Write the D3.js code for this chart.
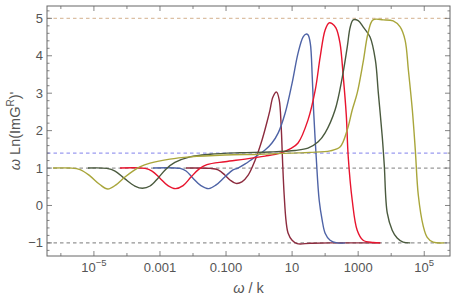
<!DOCTYPE html>
<html>
<head>
<meta charset="utf-8">
<script src="https://cdn.jsdelivr.net/npm/d3@7"></script>
<style>
  body { margin: 0; background: #fff; }
  text { font-family: "Liberation Sans", Arial, sans-serif; fill: #555; }
</style>
</head>
<body>
<svg id="chart" width="456" height="304"></svg>
<script>
// each point: [log10(omega/k), omega Ln(ImG^R)']
const maroon = [[-2.21,1.00],[-1.48,0.99],[-1.24,0.95],[-1.03,0.81],[-0.88,0.68],[-0.70,0.59],[-0.52,0.63],
  [-0.33,0.81],[-0.12,1.21],[0.09,1.75],[0.24,2.23],[0.33,2.55],[0.42,2.90],[0.53,3.03],[0.61,2.82],
  [0.67,2.10],[0.71,1.21],[0.76,0.28],[0.82,-0.44],[0.88,-0.74],[1.00,-0.93],[1.15,-1.02],[1.55,-1.01],
  [2.15,-1.00],[3.67,-1.00]];
const blue = [[-3.21,1.00],[-2.39,0.99],[-2.21,0.92],[-2.00,0.73],[-1.76,0.53],[-1.52,0.45],[-1.30,0.55],
  [-1.03,0.77],[-0.79,0.95],[-0.64,1.00],[-0.42,1.11],[-0.21,1.24],[-0.03,1.35],[0.18,1.48],[0.39,1.67],
  [0.58,1.94],[0.79,2.47],[1.00,3.27],[1.18,4.07],[1.33,4.50],[1.42,4.58],[1.48,4.56],[1.55,4.34],
  [1.61,3.43],[1.65,2.55],[1.73,1.29],[1.82,0.14],[1.91,-0.39],[2.00,-0.74],[2.15,-0.93],[2.36,-1.00],[2.61,-1.00]];
const red = [[-4.21,1.00],[-3.45,0.99],[-3.24,0.92],[-3.00,0.73],[-2.76,0.53],[-2.53,0.45],[-2.30,0.53],
  [-2.06,0.76],[-1.82,0.97],[-1.58,1.09],[-1.03,1.17],[-0.42,1.24],[0.18,1.32],[0.64,1.40],[0.94,1.51],
  [1.18,1.67],[1.48,2.28],[1.70,3.08],[1.85,3.97],[2.00,4.69],[2.12,4.88],[2.21,4.86],[2.33,4.74],
  [2.45,4.34],[2.55,3.43],[2.64,2.42],[2.70,1.29],[2.82,0.14],[2.97,-0.66],[3.15,-0.93],[3.45,-0.99],[3.67,-1.00]];
const green = [[-5.18,1.00],[-4.61,0.99],[-4.36,0.92],[-4.06,0.71],[-3.76,0.52],[-3.53,0.46],[-3.30,0.52],
  [-3.06,0.73],[-2.82,0.97],[-2.55,1.15],[-2.09,1.30],[-1.48,1.37],[-0.58,1.41],[0.33,1.43],[1.09,1.47],
  [1.48,1.53],[1.79,1.70],[2.00,1.94],[2.30,2.55],[2.52,3.43],[2.67,4.24],[2.76,4.77],[2.85,4.96],
  [3.00,4.94],[3.15,4.77],[3.36,4.50],[3.52,3.89],[3.61,3.01],[3.73,1.83],[3.79,1.08],[3.88,-0.20],
  [4.03,-0.66],[4.18,-0.87],[4.36,-0.98],[4.58,-1.00]];
const olive = [[-6.24,1.00],[-5.73,1.00],[-5.42,0.96],[-5.12,0.79],[-4.82,0.56],[-4.58,0.44],[-4.33,0.55],
  [-4.06,0.76],[-3.82,0.92],[-3.61,1.03],[-3.30,1.13],[-2.70,1.24],[-2.09,1.30],[-1.03,1.35],[0.03,1.37],
  [0.94,1.40],[1.55,1.42],[2.15,1.46],[2.45,1.56],[2.67,2.02],[2.82,2.55],[2.97,3.00],[3.15,3.83],
  [3.30,4.61],[3.45,4.96],[3.76,4.96],[4.06,4.93],[4.27,4.77],[4.42,4.42],[4.52,3.62],[4.64,2.55],
  [4.73,1.48],[4.82,0.28],[4.97,-0.55],[5.09,-0.85],[5.27,-0.98],[5.61,-1.00]];

const seriesColors = ['#8c2b3e', '#4e63a6', '#e8142e', '#4a5a3e', '#a9a63b'];
const refLines = [{v: 5, c: '#dcc0a4'}, {v: 1.4, c: '#9a9af0'}, {v: 1, c: '#999'}, {v: -1, c: '#949494'}];
const xLabelExps = [-5, -3, -1, 1, 3, 5];
const xLabelText = {'-3': '0.001', '-1': '0.100', '1': '10', '3': '1000'};
const yTicks = [-1, 0, 1, 2, 3, 4, 5];

const svg = d3.select('#chart');
const margin = {top: 6, right: 6, bottom: 48, left: 47};
const W = 456, H = 304;

const x = d3.scaleLog()
  .domain([Math.pow(10, -6.42), Math.pow(10, 5.78)])
  .range([margin.left, W - margin.right]);
const y = d3.scaleLinear()
  .domain([-1.35, 5.33])
  .range([H - margin.bottom, margin.top]);

const x0 = margin.left, x1 = W - margin.right, y0 = H - margin.bottom, y1 = margin.top;

// reference lines
refLines.forEach(r => {
  svg.append('line')
    .attr('x1', x0).attr('x2', x1)
    .attr('y1', y(r.v)).attr('y2', y(r.v))
    .attr('stroke', r.c).attr('stroke-width', 1.3)
    .attr('stroke-dasharray', '3.5,3');
});

// curves
const line = d3.line()
  .x(d => x(Math.pow(10, d[0])))
  .y(d => y(d[1]))
  .curve(d3.curveCatmullRom.alpha(0.5));

[maroon, blue, red, green, olive].forEach((s, i) => {
  svg.append('path')
    .attr('d', line(s))
    .attr('fill', 'none')
    .attr('stroke', seriesColors[i])
    .attr('stroke-width', 1.4);
});

// frame
svg.append('rect')
  .attr('x', x0).attr('y', y1)
  .attr('width', x1 - x0).attr('height', y0 - y1)
  .attr('fill', 'none').attr('stroke', '#666').attr('stroke-width', 1);

const ticks = svg.append('g').attr('stroke', '#666').attr('stroke-width', 0.8);

// x ticks, every decade, on bottom and top
d3.range(-6, 6).forEach(e => {
  const px = x(Math.pow(10, e));
  const len = xLabelExps.includes(e) ? 5 : 3;
  ticks.append('line').attr('x1', px).attr('x2', px).attr('y1', y0).attr('y2', y0 - len);
  ticks.append('line').attr('x1', px).attr('x2', px).attr('y1', y1).attr('y2', y1 + len);
});

// y ticks, major + minor (0.2), on left and right
d3.range(-6, 27).forEach(k => {
  const v = k / 5;
  if (v < -1.35 || v > 5.33) return;
  const major = k % 5 === 0;
  const len = major ? 5 : 2.5;
  ticks.append('line').attr('x1', x0).attr('x2', x0 + len).attr('y1', y(v)).attr('y2', y(v));
  ticks.append('line').attr('x1', x1).attr('x2', x1 - len).attr('y1', y(v)).attr('y2', y(v));
});

// y tick labels
yTicks.forEach(v => {
  svg.append('text')
    .attr('x', x0 - 4).attr('y', y(v))
    .attr('dy', '0.35em')
    .attr('text-anchor', 'end')
    .style('font-size', '13px')
    .text(v < 0 ? '\u2212' + Math.abs(v) : v);
});

// x tick labels
xLabelExps.forEach(e => {
  const t = svg.append('text')
    .attr('x', x(Math.pow(10, e))).attr('y', 272)
    .attr('text-anchor', 'middle')
    .style('font-size', '13px');
  if (xLabelText[e] !== undefined) {
    t.text(xLabelText[e]);
  } else {
    t.append('tspan').text('10');
    t.append('tspan').attr('dy', -6).style('font-size', '9.5px')
      .text(e < 0 ? '\u2212' + Math.abs(e) : e);
  }
});

// axis labels
const xl = svg.append('text')
  .attr('x', (x0 + x1) / 2).attr('y', 293)
  .attr('text-anchor', 'middle')
  .style('font-size', '14.5px');
xl.append('tspan').style('font-style', 'italic').text('\u03c9');
xl.append('tspan').text(' / k');

const yl = svg.append('text')
  .attr('transform', `translate(20,${(y0 + y1) / 2}) rotate(-90)`)
  .attr('text-anchor', 'middle')
  .style('font-size', '14.5px');
yl.append('tspan').style('font-style', 'italic').text('\u03c9');
yl.append('tspan').text(' Ln(ImG');
yl.append('tspan').attr('dy', -6).style('font-size', '10px').text('R');
yl.append('tspan').attr('dy', 6).text(")'");
</script>
</body>
</html>
